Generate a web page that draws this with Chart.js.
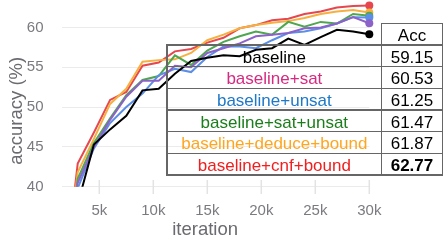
<!DOCTYPE html>
<html><head><meta charset="utf-8">
<script src="https://cdn.jsdelivr.net/npm/chart.js@4"></script>
<style>
html,body{margin:0;padding:0;background:#fff;}
#wrap{position:relative;width:443px;height:241px;overflow:hidden;}
#c{position:absolute;left:0;top:0;}
.ln{position:absolute;background:#666;}
.tx{position:absolute;font-family:"Liberation Sans",Arial,sans-serif;font-size:17px;text-align:center;white-space:nowrap;line-height:17px;}
</style></head>
<body>
<div id="wrap"><canvas id="c" width="443" height="241"></canvas><div id="tbl"></div></div>
<script>
// ---- data ----
const iterations = [1500,3000,4500,6000,7500,9000,10500,12000,13500,15000,16500,18000,19500,21000,22500,24000,25500,27000,28500,30000];
const baselineAcc     = [20, 37.8, 45.3, 47.2, 48.9, 52.1, 52.3, 54.2, 55.8, 56.2, 56.5, 56.4, 57.2, 57.4, 58.6, 57.8, 58.8, 59.7, 59.5, 59.15];
const satAcc          = [22, 40.5, 45.0, 48.4, 51.3, 53.3, 53.3, 55.2, 55.0, 56.8, 57.4, 58.0, 58.9, 59.1, 59.3, 59.9, 60.0, 60.5, 61.3, 60.53];
const unsatAcc        = [21, 39.8, 44.8, 48.0, 50.0, 51.7, 54.0, 54.8, 54.4, 56.3, 57.6, 57.6, 57.4, 58.4, 59.3, 59.5, 59.9, 60.5, 61.3, 61.25];
const satUnsatAcc     = [23, 41.0, 45.5, 48.6, 51.5, 53.4, 53.9, 56.5, 55.3, 57.1, 58.2, 58.9, 59.5, 59.1, 60.7, 60.1, 60.7, 60.5, 61.7, 61.47];
const deduceBoundAcc  = [24, 41.8, 46.0, 50.4, 52.3, 55.7, 55.9, 56.0, 56.8, 58.4, 59.1, 59.9, 60.3, 60.6, 60.8, 61.2, 61.7, 62.0, 62.2, 61.87];
const cnfBoundAcc     = [25, 42.9, 46.8, 50.9, 51.9, 55.2, 55.6, 57.0, 57.3, 58.1, 58.7, 59.9, 60.3, 60.9, 61.1, 61.7, 62.0, 62.5, 62.7, 62.77];
const seriesNames = ['baseline','baseline+sat','baseline+unsat','baseline+sat+unsat','baseline+deduce+bound','baseline+cnf+bound'];
const finalAcc = [59.15, 60.53, 61.25, 61.47, 61.87, 62.77];
const accHeader = 'Acc';
const xTickValues = [5000,10000,15000,20000,25000,30000];
const yTickValues = [40,45,50,55,60];
const xTitle = 'iteration';
const yTitle = 'accuracy (%)';

// ---- styles ----
const lineColors = ['#000000','#8c62c9','#5b8ee6','#4ea64e','#f5b040','#e6474e'];
const textColors = ['#000000','#d62a80','#1e78c8','#1b7d1b','#ffa620','#f02020'];
const seriesData = [baselineAcc, satAcc, unsatAcc, satUnsatAcc, deduceBoundAcc, cnfBoundAcc];
const FF = '"Liberation Sans", Arial, sans-serif';

const datasets = seriesData.map((d,i)=>({
  label: seriesNames[i],
  data: d.map((v,j)=>({x: iterations[j], y: v})),
  borderColor: lineColors[i],
  backgroundColor: lineColors[i],
  borderWidth: 2,
  tension: 0,
  pointRadius: ctx => ctx.dataIndex === d.length-1 ? 4 : 0,
  pointBorderWidth: 0,
  clip: {left: 0, top: 10, right: 10, bottom: 0}
}));

const tickMarks = {
  id: 'tickMarks',
  beforeDatasetsDraw(chart){
    const s = chart.scales.x, ctx = chart.ctx, b = chart.chartArea.bottom;
    ctx.save(); ctx.strokeStyle = '#e3e3e3'; ctx.lineWidth = 1.5;
    xTickValues.forEach(v=>{ const x = s.getPixelForValue(v); ctx.beginPath(); ctx.moveTo(x, b-6.7); ctx.lineTo(x, b+7.3); ctx.stroke(); });
    ctx.restore();
  }
};

new Chart(document.getElementById('c'), {
  type: 'line',
  data: {datasets},
  plugins: [tickMarks],
  options: {
    responsive: false, animation: false, devicePixelRatio: 1,
    layout: {padding: {top: 0, right: 73.7, bottom: 0, left: 0}},
    plugins: {legend: {display: false}, tooltip: {enabled: false}},
    scales: {
      x: {
        type: 'linear', min: 1500, max: 30000,
        afterBuildTicks: s => { s.ticks = xTickValues.map(v=>({value: v})); },
        afterFit: s => { s.height = 54.3; },
        grid: {display: false, drawTicks: false}, border: {display: false},
        ticks: {callback: v => (v/1000) + 'k', color: '#7a7a80', font: {family: FF, size: 15}, padding: 15, maxRotation: 0, autoSkip: false},
        title: {display: true, text: xTitle + '    ', color: '#6a6a70', font: {family: FF, size: 18.5}, padding: {top: 0, bottom: 0}}
      },
      y: {
        min: 40, max: 62.95,
        afterBuildTicks: s => { s.ticks = yTickValues.map(v=>({value: v})); },
        afterFit: s => { s.width = 61.5; s.paddingTop = 0; s.paddingBottom = 0; },
        grid: {color: '#ebebeb', lineWidth: 1, drawTicks: false}, border: {display: false},
        ticks: {color: '#7a7a80', font: {family: FF, size: 15}, padding: 18},
        title: {display: true, text: yTitle + '      ', color: '#6a6a70', font: {family: FF, size: 18.5}, padding: {top: 6, bottom: 0}}
      }
    }
  }
});

// ---- table overlay ----
(function(){
  const t = document.getElementById('tbl');
  const x0 = 167, x1 = 381.7, x2 = 442.3, yh = 23.3, y0 = 45, rh = 21.67, n = seriesNames.length;
  const yEnd = y0 + n*rh;
  function line(l, tp, w, h){ const d = document.createElement('div'); d.className='ln'; d.style.left=l+'px'; d.style.top=tp+'px'; d.style.width=w+'px'; d.style.height=h+'px'; t.appendChild(d); }
  function text(s, cx, w, top, color, bold){ const d=document.createElement('div'); d.className='tx'; d.textContent=s; d.style.left=(cx-w/2)+'px'; d.style.width=w+'px'; d.style.top=top+'px'; d.style.color=color; if(bold) d.style.fontWeight='bold'; t.appendChild(d); }
  const lw = 1.3;
  line(x1-lw/2, yh-lw/2, x2-x1+lw, lw);
  for(let i=0;i<=n;i++) line(x0-lw/2, y0+i*rh-lw/2, x2-x0+lw, lw);
  line(x0-lw/2, y0-lw/2, lw, yEnd-y0+lw);
  line(x1-lw/2, yh-lw/2, lw, yEnd-yh+lw);
  line(x2-lw/2, yh-lw/2, lw, yEnd-yh+lw);
  const best = Math.max(...finalAcc);
  text(accHeader, (x1+x2)/2, x2-x1, yh+3.5, '#000', false);
  seriesNames.forEach((s,i)=>{
    const top = y0 + i*rh + 3.5;
    text(s, (x0+x1)/2, x1-x0, top, textColors[i], false);
    text(finalAcc[i].toFixed(2), (x1+x2)/2, x2-x1, top, '#000', finalAcc[i]===best);
  });
})();
</script>
</body></html>
